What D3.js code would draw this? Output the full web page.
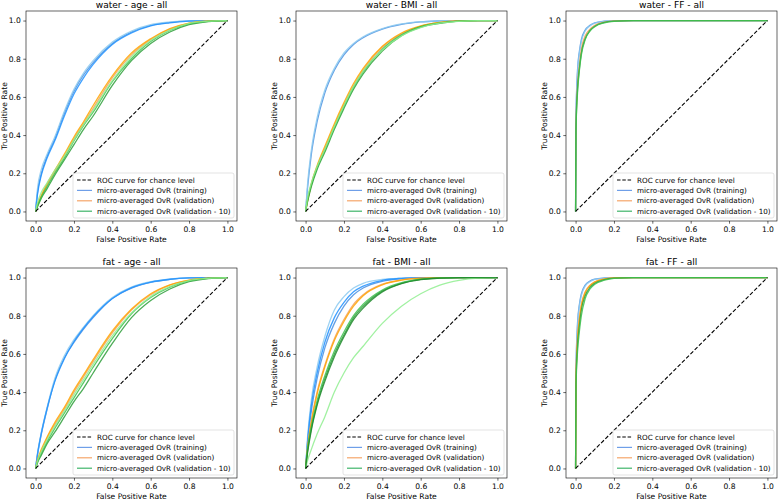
<!DOCTYPE html>
<html>
<head>
<meta charset="utf-8">
<script src="https://cdn.jsdelivr.net/npm/d3@7"></script>
<style>
  body { margin: 0; background: #fff; }
  svg { font-family: "DejaVu Sans", sans-serif; }
</style>
</head>
<body>
<svg id="chart"></svg>
<script>
// ROC grid, 2 rows x 3 cols
const W = 778, H = 499;

const titles = ["water - age - all", "water - BMI - all", "water - FF - all",
                "fat - age - all", "fat - BMI - all", "fat - FF - all"];
const ticks = [0, 0.2, 0.4, 0.6, 0.8, 1.0];
const legendLabels = ["ROC curve for chance level", "micro-averaged OvR (training)",
                      "micro-averaged OvR (validation)", "micro-averaged OvR (validation - 10)"];
const legendColors = ["#000", "#6f9fe8", "#f5a66a", "#3fb56a"];

// false positive rate grids
const fprGrid = [0, 0.01, 0.03, 0.06, 0.1, 0.15, 0.2, 0.25, 0.3, 0.4, 0.5, 0.6, 0.7, 0.8, 0.9, 1.0];
const fprGridFF = [0, 0.002, 0.01, 0.02, 0.03, 0.05, 0.075, 0.1, 0.15, 0.2, 0.3, 1.0];

// true positive rates (one row per curve)
const waterAgeTrain = [
  [0, 0.1, 0.2, 0.29, 0.38, 0.515, 0.63, 0.715, 0.78, 0.88, 0.94, 0.975, 0.99, 0.998, 1, 1],
  [0, 0.12, 0.22, 0.3, 0.39, 0.525, 0.64, 0.725, 0.79, 0.887, 0.945, 0.978, 0.992, 0.998, 1, 1],
  [0, 0.09, 0.19, 0.28, 0.37, 0.5, 0.615, 0.7, 0.77, 0.875, 0.935, 0.972, 0.988, 0.997, 1, 1]];
const waterAgeVal = [
  [0, 0.03, 0.08, 0.14, 0.21, 0.29, 0.38, 0.46, 0.54, 0.7, 0.82, 0.9, 0.955, 0.985, 0.997, 1],
  [0, 0.035, 0.085, 0.145, 0.215, 0.3, 0.39, 0.47, 0.555, 0.71, 0.83, 0.905, 0.958, 0.987, 0.998, 1]];
const waterAgeVal10 = [
  [0, 0.025, 0.07, 0.12, 0.19, 0.27, 0.35, 0.43, 0.5, 0.66, 0.79, 0.88, 0.94, 0.978, 0.995, 1],
  [0, 0.03, 0.075, 0.13, 0.2, 0.28, 0.37, 0.45, 0.52, 0.68, 0.8, 0.89, 0.948, 0.982, 0.996, 1],
  [0, 0.045, 0.1, 0.15, 0.215, 0.29, 0.375, 0.455, 0.53, 0.685, 0.81, 0.895, 0.95, 0.985, 0.997, 1]];

const waterBmiTrain = [
  [0, 0.12, 0.3, 0.47, 0.62, 0.74, 0.82, 0.875, 0.91, 0.955, 0.98, 0.993, 0.998, 1, 1, 1],
  [0, 0.14, 0.32, 0.49, 0.635, 0.75, 0.83, 0.88, 0.915, 0.958, 0.982, 0.994, 0.998, 1, 1, 1]];
const waterBmiVal = [
  [0, 0.05, 0.14, 0.23, 0.33, 0.45, 0.56, 0.66, 0.74, 0.86, 0.93, 0.97, 0.99, 0.998, 1, 1],
  [0, 0.055, 0.145, 0.24, 0.34, 0.46, 0.57, 0.67, 0.75, 0.865, 0.935, 0.972, 0.99, 0.998, 1, 1]];
const waterBmiVal10 = [
  [0, 0.05, 0.13, 0.22, 0.31, 0.43, 0.54, 0.64, 0.72, 0.84, 0.92, 0.965, 0.985, 0.997, 1, 1],
  [0, 0.06, 0.14, 0.23, 0.32, 0.44, 0.55, 0.65, 0.73, 0.85, 0.925, 0.968, 0.988, 0.997, 1, 1],
  [0, 0.07, 0.15, 0.235, 0.325, 0.445, 0.555, 0.655, 0.735, 0.845, 0.92, 0.963, 0.986, 0.996, 1, 1]];

const waterFfTrain = [
  [0, 0.5, 0.74, 0.84, 0.9, 0.95, 0.975, 0.988, 0.997, 1, 1, 1],
  [0, 0.48, 0.72, 0.83, 0.89, 0.945, 0.972, 0.986, 0.996, 1, 1, 1]];
const waterFfVal = [
  [0, 0.45, 0.66, 0.77, 0.85, 0.92, 0.955, 0.975, 0.992, 0.998, 1, 1]];
const waterFfVal10 = [
  [0, 0.43, 0.64, 0.75, 0.83, 0.905, 0.948, 0.97, 0.99, 0.997, 1, 1],
  [0, 0.42, 0.62, 0.74, 0.82, 0.9, 0.945, 0.968, 0.988, 0.996, 1, 1]];

const fatAgeTrain = [
  [0, 0.07, 0.18, 0.31, 0.46, 0.58, 0.66, 0.73, 0.79, 0.89, 0.945, 0.975, 0.99, 0.998, 1, 1],
  [0, 0.08, 0.19, 0.32, 0.47, 0.59, 0.675, 0.74, 0.8, 0.895, 0.95, 0.978, 0.992, 0.998, 1, 1],
  [0, 0.075, 0.185, 0.315, 0.455, 0.575, 0.665, 0.735, 0.795, 0.89, 0.947, 0.976, 0.991, 0.998, 1, 1]];
const fatAgeVal = [
  [0, 0.04, 0.09, 0.16, 0.23, 0.31, 0.4, 0.48, 0.56, 0.71, 0.83, 0.91, 0.96, 0.985, 0.997, 1],
  [0, 0.045, 0.1, 0.165, 0.24, 0.32, 0.41, 0.49, 0.57, 0.72, 0.835, 0.915, 0.962, 0.987, 0.997, 1]];
const fatAgeVal10 = [
  [0, 0.03, 0.07, 0.13, 0.19, 0.27, 0.35, 0.42, 0.5, 0.655, 0.79, 0.88, 0.94, 0.978, 0.995, 1],
  [0, 0.035, 0.08, 0.14, 0.21, 0.29, 0.37, 0.45, 0.53, 0.68, 0.81, 0.895, 0.95, 0.982, 0.996, 1],
  [0, 0.04, 0.09, 0.15, 0.22, 0.3, 0.385, 0.465, 0.545, 0.695, 0.815, 0.9, 0.952, 0.984, 0.996, 1]];

const fatBmiTrain = [
  [0, 0.13, 0.3, 0.47, 0.63, 0.76, 0.85, 0.91, 0.945, 0.98, 0.994, 0.999, 1, 1, 1, 1],
  [0, 0.16, 0.36, 0.53, 0.69, 0.83, 0.9, 0.945, 0.97, 0.99, 0.997, 1, 1, 1, 1, 1],
  [0, 0.14, 0.33, 0.5, 0.66, 0.79, 0.87, 0.925, 0.955, 0.985, 0.996, 1, 1, 1, 1, 1]];
const fatBmiVal = [
  [0, 0.11, 0.25, 0.4, 0.54, 0.68, 0.78, 0.86, 0.91, 0.965, 0.988, 0.997, 1, 1, 1, 1],
  [0, 0.1, 0.24, 0.39, 0.53, 0.67, 0.77, 0.85, 0.905, 0.962, 0.986, 0.996, 1, 1, 1, 1]];
const fatBmiVal10 = [
  [0, 0.09, 0.21, 0.34, 0.47, 0.6, 0.7, 0.79, 0.85, 0.93, 0.97, 0.99, 0.997, 1, 1, 1],
  [0, 0.1, 0.22, 0.355, 0.485, 0.615, 0.715, 0.8, 0.86, 0.935, 0.973, 0.991, 0.998, 1, 1, 1],
  [0, 0.04, 0.1, 0.18, 0.27, 0.4, 0.5, 0.58, 0.64, 0.76, 0.85, 0.915, 0.96, 0.985, 0.997, 1],
  [0, 0.08, 0.2, 0.33, 0.455, 0.585, 0.69, 0.78, 0.84, 0.925, 0.968, 0.989, 0.997, 1, 1, 1]];

const fatFfTrain = [
  [0, 0.52, 0.76, 0.86, 0.915, 0.96, 0.982, 0.992, 0.998, 1, 1, 1],
  [0, 0.5, 0.74, 0.85, 0.905, 0.955, 0.978, 0.99, 0.997, 1, 1, 1]];
const fatFfVal = [
  [0, 0.47, 0.68, 0.79, 0.86, 0.925, 0.96, 0.978, 0.993, 0.998, 1, 1],
  [0, 0.46, 0.67, 0.78, 0.85, 0.92, 0.957, 0.976, 0.992, 0.998, 1, 1]];
const fatFfVal10 = [
  [0, 0.44, 0.64, 0.75, 0.83, 0.905, 0.948, 0.97, 0.989, 0.997, 1, 1],
  [0, 0.42, 0.61, 0.72, 0.8, 0.89, 0.94, 0.965, 0.986, 0.996, 1, 1]];

const trainColors = ["#4a8fe0", "#8ccaf0", "#1e90ff"];
const valColors = ["#f5a05a", "#ffa500"];
const val10Colors = ["#2e9e3a", "#3cc04c", "#90ee90", "#1f8a2c"];

const grids = [fprGrid, fprGrid, fprGridFF, fprGrid, fprGrid, fprGridFF];
const trainSets = [waterAgeTrain, waterBmiTrain, waterFfTrain, fatAgeTrain, fatBmiTrain, fatFfTrain];
const valSets = [waterAgeVal, waterBmiVal, waterFfVal, fatAgeVal, fatBmiVal, fatFfVal];
const val10Sets = [waterAgeVal10, waterBmiVal10, waterFfVal10, fatAgeVal10, fatBmiVal10, fatFfVal10];

// layout
const colLeft = [26, 296, 566];
const rowTop = [11, 268];
const pw = 211, ph = 210;
const fontSmall = 7.6;

const svg = d3.select("#chart").attr("width", W).attr("height", H);

titles.forEach((title, i) => {
  let left = colLeft[i % 3], top = rowTop[Math.floor(i / 3)];
  let x = d3.scaleLinear().domain([-0.05, 1.05]).range([left, left + pw]);
  let y = d3.scaleLinear().domain([-0.05, 1.05]).range([top + ph, top]);
  let g = svg.append("g");

  g.append("clipPath").attr("id", "clip" + i)
    .append("rect").attr("x", left).attr("y", top).attr("width", pw).attr("height", ph);

  let line = d3.line()
    .x(d => x(d[0])).y(d => y(d[1]))
    .curve(d3.curveMonotoneX);
  let grid = grids[i];

  let curves = g.append("g").attr("clip-path", `url(#clip${i})`);
  let groups = [[trainSets[i], trainColors], [valSets[i], valColors], [val10Sets[i], val10Colors]];
  groups.forEach(([sets, colors]) => {
    sets.forEach((tpr, k) => {
      curves.append("path")
        .datum(grid.map((f, j) => [f, tpr[j]]))
        .attr("d", line)
        .attr("fill", "none")
        .attr("stroke", colors[k % colors.length])
        .attr("stroke-width", 1.3)
        .attr("stroke-opacity", 0.85);
    });
  });

  // chance level
  curves.append("path")
    .datum([[0, 0], [1, 1]])
    .attr("d", d3.line().x(d => x(d[0])).y(d => y(d[1])))
    .attr("stroke", "#000")
    .attr("stroke-width", 1.1)
    .attr("stroke-dasharray", "4,2");

  // axes
  let xAxis = g.append("g")
    .attr("transform", `translate(0,${top + ph})`)
    .call(d3.axisBottom(x).tickValues(ticks).tickFormat(d3.format(".1f")).tickSize(2.7).tickPadding(2.5));
  let yAxis = g.append("g")
    .attr("transform", `translate(${left},0)`)
    .call(d3.axisLeft(y).tickValues(ticks).tickFormat(d3.format(".1f")).tickSize(2.7).tickPadding(2.5));
  [xAxis, yAxis].forEach(a => {
    a.select(".domain").remove();
    a.selectAll(".tick line").attr("stroke", "#000").attr("stroke-width", 0.6);
    a.selectAll(".tick text").attr("font-size", fontSmall).attr("fill", "#000")
      .attr("font-family", "DejaVu Sans");
  });

  g.append("rect")
    .attr("x", left).attr("y", top).attr("width", pw).attr("height", ph)
    .attr("fill", "none").attr("stroke", "#000").attr("stroke-width", 0.6);

  g.append("text")
    .attr("x", left + pw / 2).attr("y", top - 3.5)
    .attr("text-anchor", "middle").attr("font-size", 9.1)
    .text(title);
  g.append("text")
    .attr("x", left + pw / 2).attr("y", top + ph + 20.5)
    .attr("text-anchor", "middle").attr("font-size", fontSmall)
    .text("False Positive Rate");
  g.append("text")
    .attr("transform", `translate(${left - 19},${top + ph / 2}) rotate(-90)`)
    .attr("text-anchor", "middle").attr("font-size", fontSmall)
    .text("True Positive Rate");

  // legend
  let lw = 161, lh = 45;
  let lx = left + pw - 3 - lw, ly = top + ph - 3 - lh;
  let leg = g.append("g");
  leg.append("rect")
    .attr("x", lx).attr("y", ly).attr("width", lw).attr("height", lh)
    .attr("rx", 2).attr("fill", "#fff").attr("fill-opacity", 0.8)
    .attr("stroke", "#d0d0d0").attr("stroke-width", 0.6);
  legendLabels.forEach((lab, k) => {
    let cy = ly + 7 + k * 10.4;
    leg.append("line")
      .attr("x1", lx + 4).attr("x2", lx + 19).attr("y1", cy).attr("y2", cy)
      .attr("stroke", legendColors[k]).attr("stroke-width", 1.2)
      .attr("stroke-dasharray", k === 0 ? "3.5,1.8" : null);
    leg.append("text")
      .attr("x", lx + 24).attr("y", cy).attr("dy", "0.35em")
      .attr("font-size", 7.2)
      .text(lab);
  });
});
</script>
</body>
</html>
